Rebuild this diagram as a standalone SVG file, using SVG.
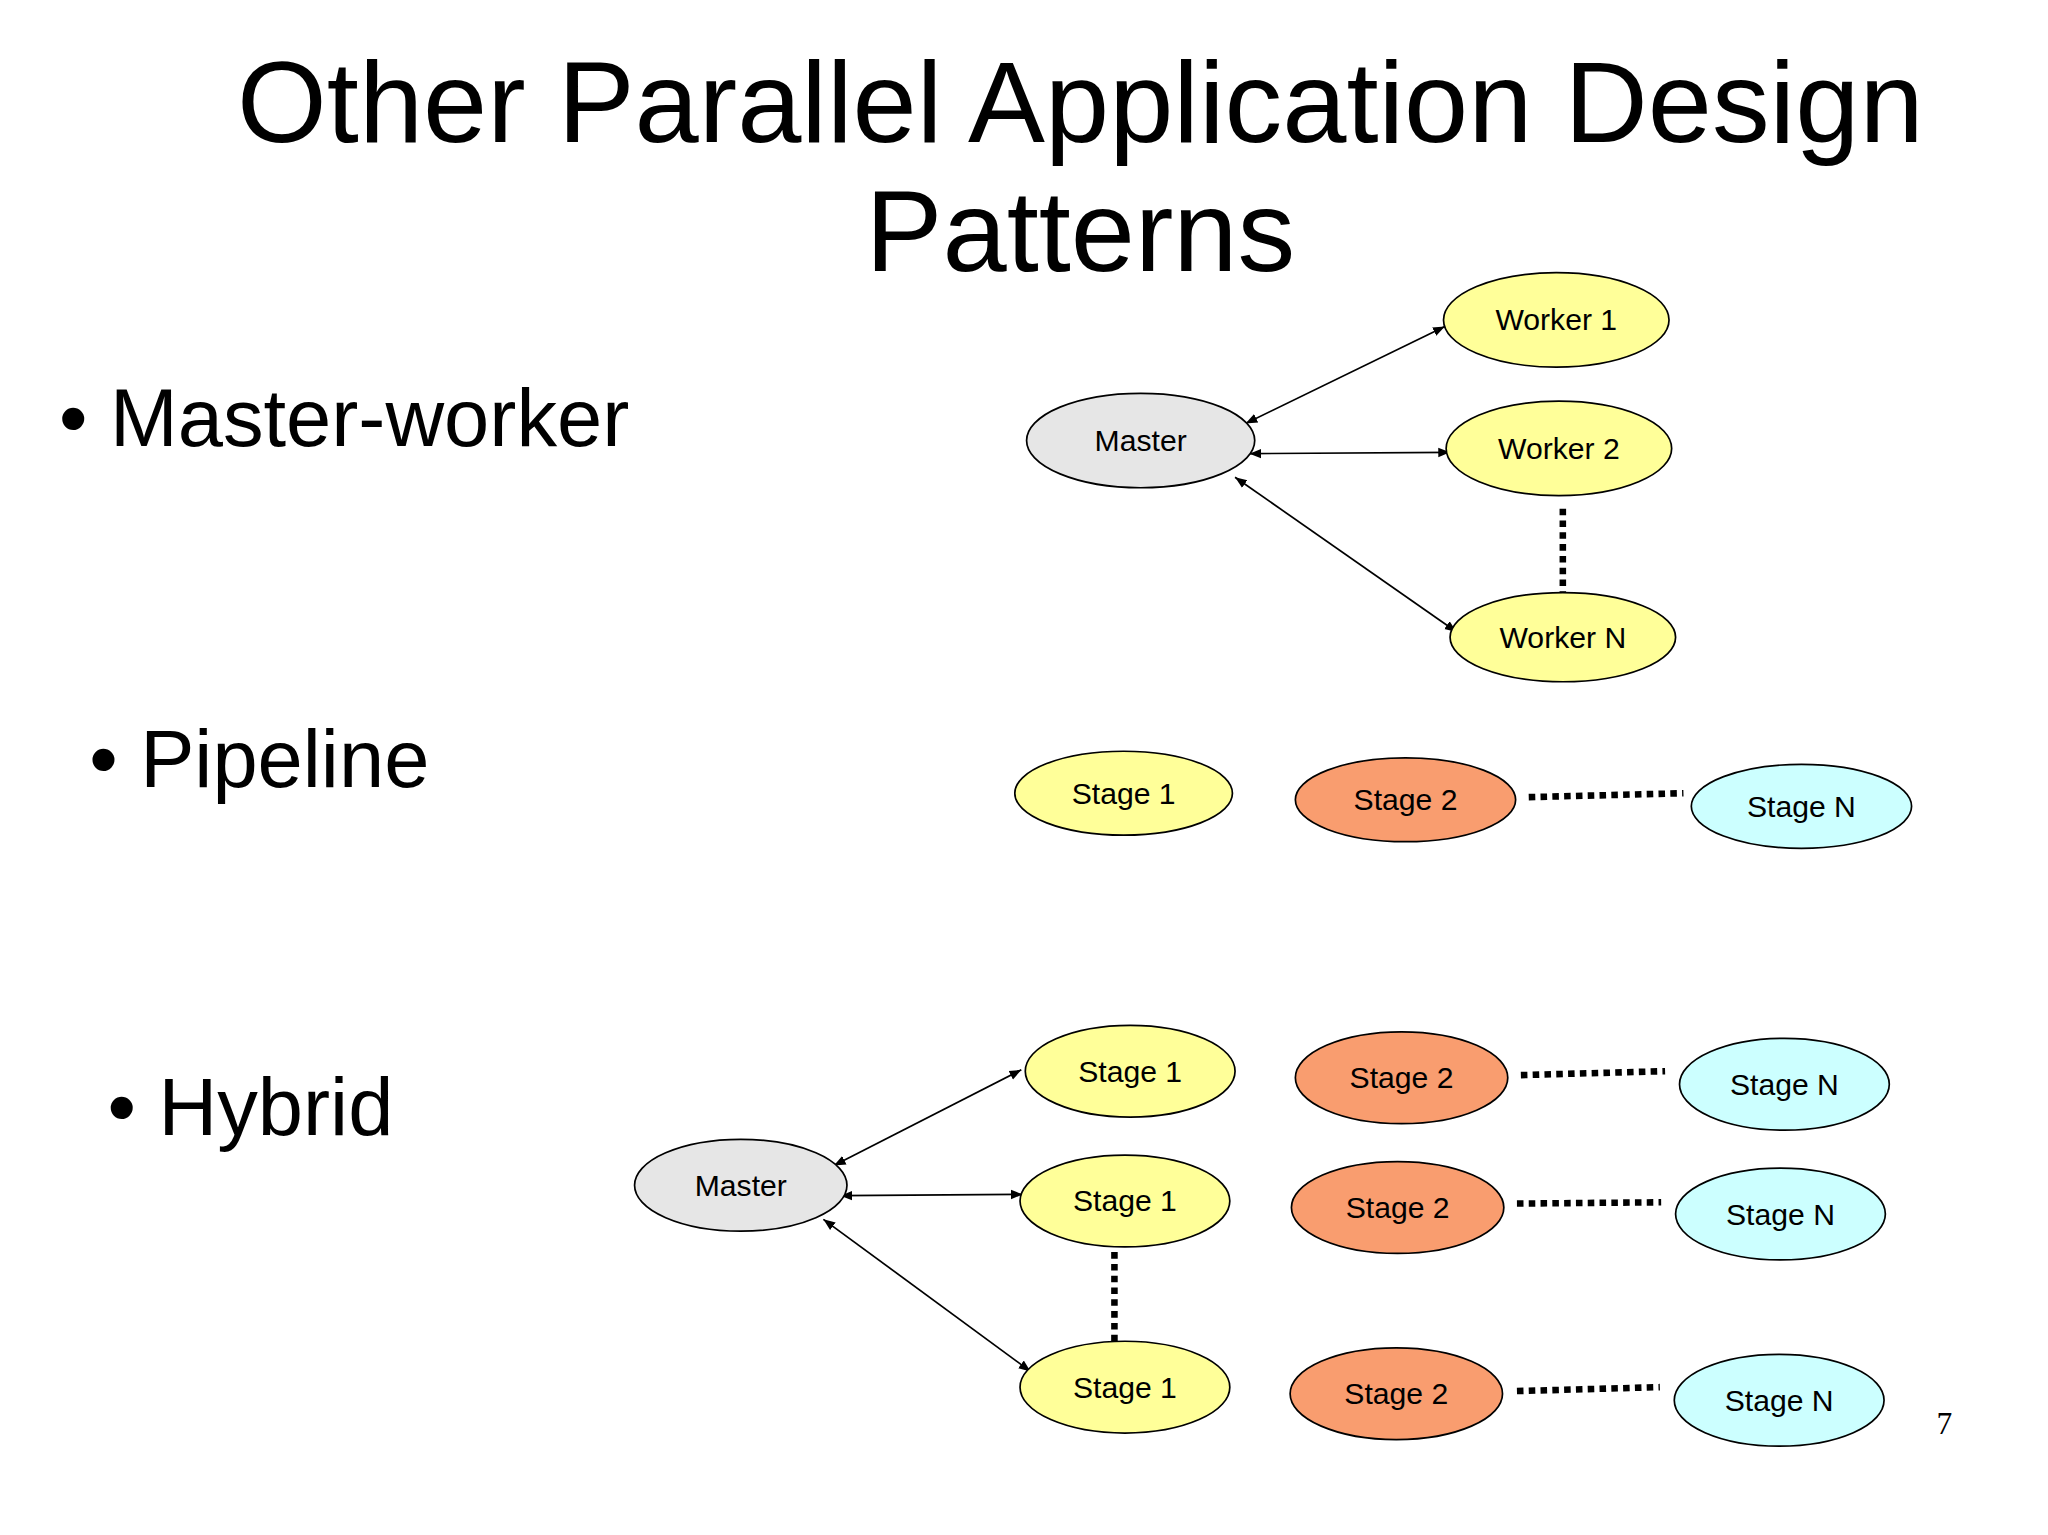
<svg xmlns="http://www.w3.org/2000/svg" width="2048" height="1535" viewBox="0 0 2048 1535">
<defs>
<marker id="a" viewBox="0 0 10 10" refX="10" refY="5" markerWidth="9" markerHeight="9" orient="auto-start-reverse" markerUnits="userSpaceOnUse"><path d="M0,1 L10,5 L0,9 z" fill="#000"/></marker>
<style>
.n{stroke:#000;stroke-width:1.3}
.m{fill:#e6e6e6}.y{fill:#ffff99}.o{fill:#f99d6f}.c{fill:#ccffff}
.t{font-family:"Liberation Sans",Arial,sans-serif;font-size:23px;text-anchor:middle;dominant-baseline:central}
.b{font-family:"Liberation Sans",Arial,sans-serif;font-size:62px}
.ar{stroke:#000;stroke-width:1.3;fill:none;marker-start:url(#a);marker-end:url(#a)}
.d{stroke:#000;stroke-width:5;stroke-dasharray:5 4;fill:none}
</style>
</defs>
<rect width="2048" height="1535" fill="#fff"/>
<g transform="scale(1.3111)">
<text x="824" y="108" font-family="Liberation Sans,Arial,sans-serif" font-size="88" text-anchor="middle">Other Parallel Application Design</text>
<text x="824" y="207" font-family="Liberation Sans,Arial,sans-serif" font-size="88" text-anchor="middle">Patterns</text>
<text class="b" x="45" y="340">•  Master-worker</text>
<text class="b" x="68" y="600">•  Pipeline</text>
<text class="b" x="82" y="866">•  Hybrid</text>
<text x="1477" y="1094" font-family="Liberation Serif,serif" font-size="24">7</text>
<g id="connectors">
<line class="ar" x1="950" y1="323" x2="1102" y2="249"/>
<line class="ar" x1="953" y1="346" x2="1106" y2="345"/>
<line class="ar" x1="942" y1="364" x2="1111" y2="482"/>
<line class="d" x1="1192" y1="388" x2="1192" y2="452"/>
<line class="d" x1="1166" y1="608" x2="1284" y2="605"/>
<line class="ar" x1="636" y1="889" x2="779" y2="816"/>
<line class="ar" x1="641" y1="912" x2="780" y2="911"/>
<line class="ar" x1="628" y1="930" x2="786" y2="1046"/>
<line class="d" x1="850" y1="955" x2="850" y2="1027"/>
<line class="d" x1="1160" y1="820" x2="1270" y2="817"/>
<line class="d" x1="1157" y1="918" x2="1267" y2="917"/>
<line class="d" x1="1157" y1="1061" x2="1266" y2="1058"/>
</g>
<g id="mw-master"><ellipse class="n m" cx="870" cy="336" rx="87" ry="36"/><text class="t" x="870" y="336">Master</text></g>
<g id="mw-w1"><ellipse class="n y" cx="1187" cy="244" rx="86" ry="36"/><text class="t" x="1187" y="244">Worker 1</text></g>
<g id="mw-w2"><ellipse class="n y" cx="1189" cy="342" rx="86" ry="36"/><text class="t" x="1189" y="342">Worker 2</text></g>
<g id="mw-wn"><ellipse class="n y" cx="1192" cy="486" rx="86" ry="34"/><text class="t" x="1192" y="486">Worker N</text></g>
<g id="p-s1"><ellipse class="n y" cx="857" cy="605" rx="83" ry="32"/><text class="t" x="857" y="605">Stage 1</text></g>
<g id="p-s2"><ellipse class="n o" cx="1072" cy="610" rx="84" ry="32"/><text class="t" x="1072" y="610">Stage 2</text></g>
<g id="p-sn"><ellipse class="n c" cx="1374" cy="615" rx="84" ry="32"/><text class="t" x="1374" y="615">Stage N</text></g>
<g id="h-master"><ellipse class="n m" cx="565" cy="904" rx="81" ry="35"/><text class="t" x="565" y="904" font-size="26">Master</text></g>
<g id="h-s1a"><ellipse class="n y" cx="862" cy="817" rx="80" ry="35"/><text class="t" x="862" y="817">Stage 1</text></g>
<g id="h-s1b"><ellipse class="n y" cx="858" cy="916" rx="80" ry="35"/><text class="t" x="858" y="916">Stage 1</text></g>
<g id="h-s1c"><ellipse class="n y" cx="858" cy="1058" rx="80" ry="35"/><text class="t" x="858" y="1058">Stage 1</text></g>
<g id="h-s2a"><ellipse class="n o" cx="1069" cy="822" rx="81" ry="35"/><text class="t" x="1069" y="822">Stage 2</text></g>
<g id="h-s2b"><ellipse class="n o" cx="1066" cy="921" rx="81" ry="35"/><text class="t" x="1066" y="921">Stage 2</text></g>
<g id="h-s2c"><ellipse class="n o" cx="1065" cy="1063" rx="81" ry="35"/><text class="t" x="1065" y="1063">Stage 2</text></g>
<g id="h-sna"><ellipse class="n c" cx="1361" cy="827" rx="80" ry="35"/><text class="t" x="1361" y="827">Stage N</text></g>
<g id="h-snb"><ellipse class="n c" cx="1358" cy="926" rx="80" ry="35"/><text class="t" x="1358" y="926">Stage N</text></g>
<g id="h-snc"><ellipse class="n c" cx="1357" cy="1068" rx="80" ry="35"/><text class="t" x="1357" y="1068">Stage N</text></g>
</g>
</svg>
